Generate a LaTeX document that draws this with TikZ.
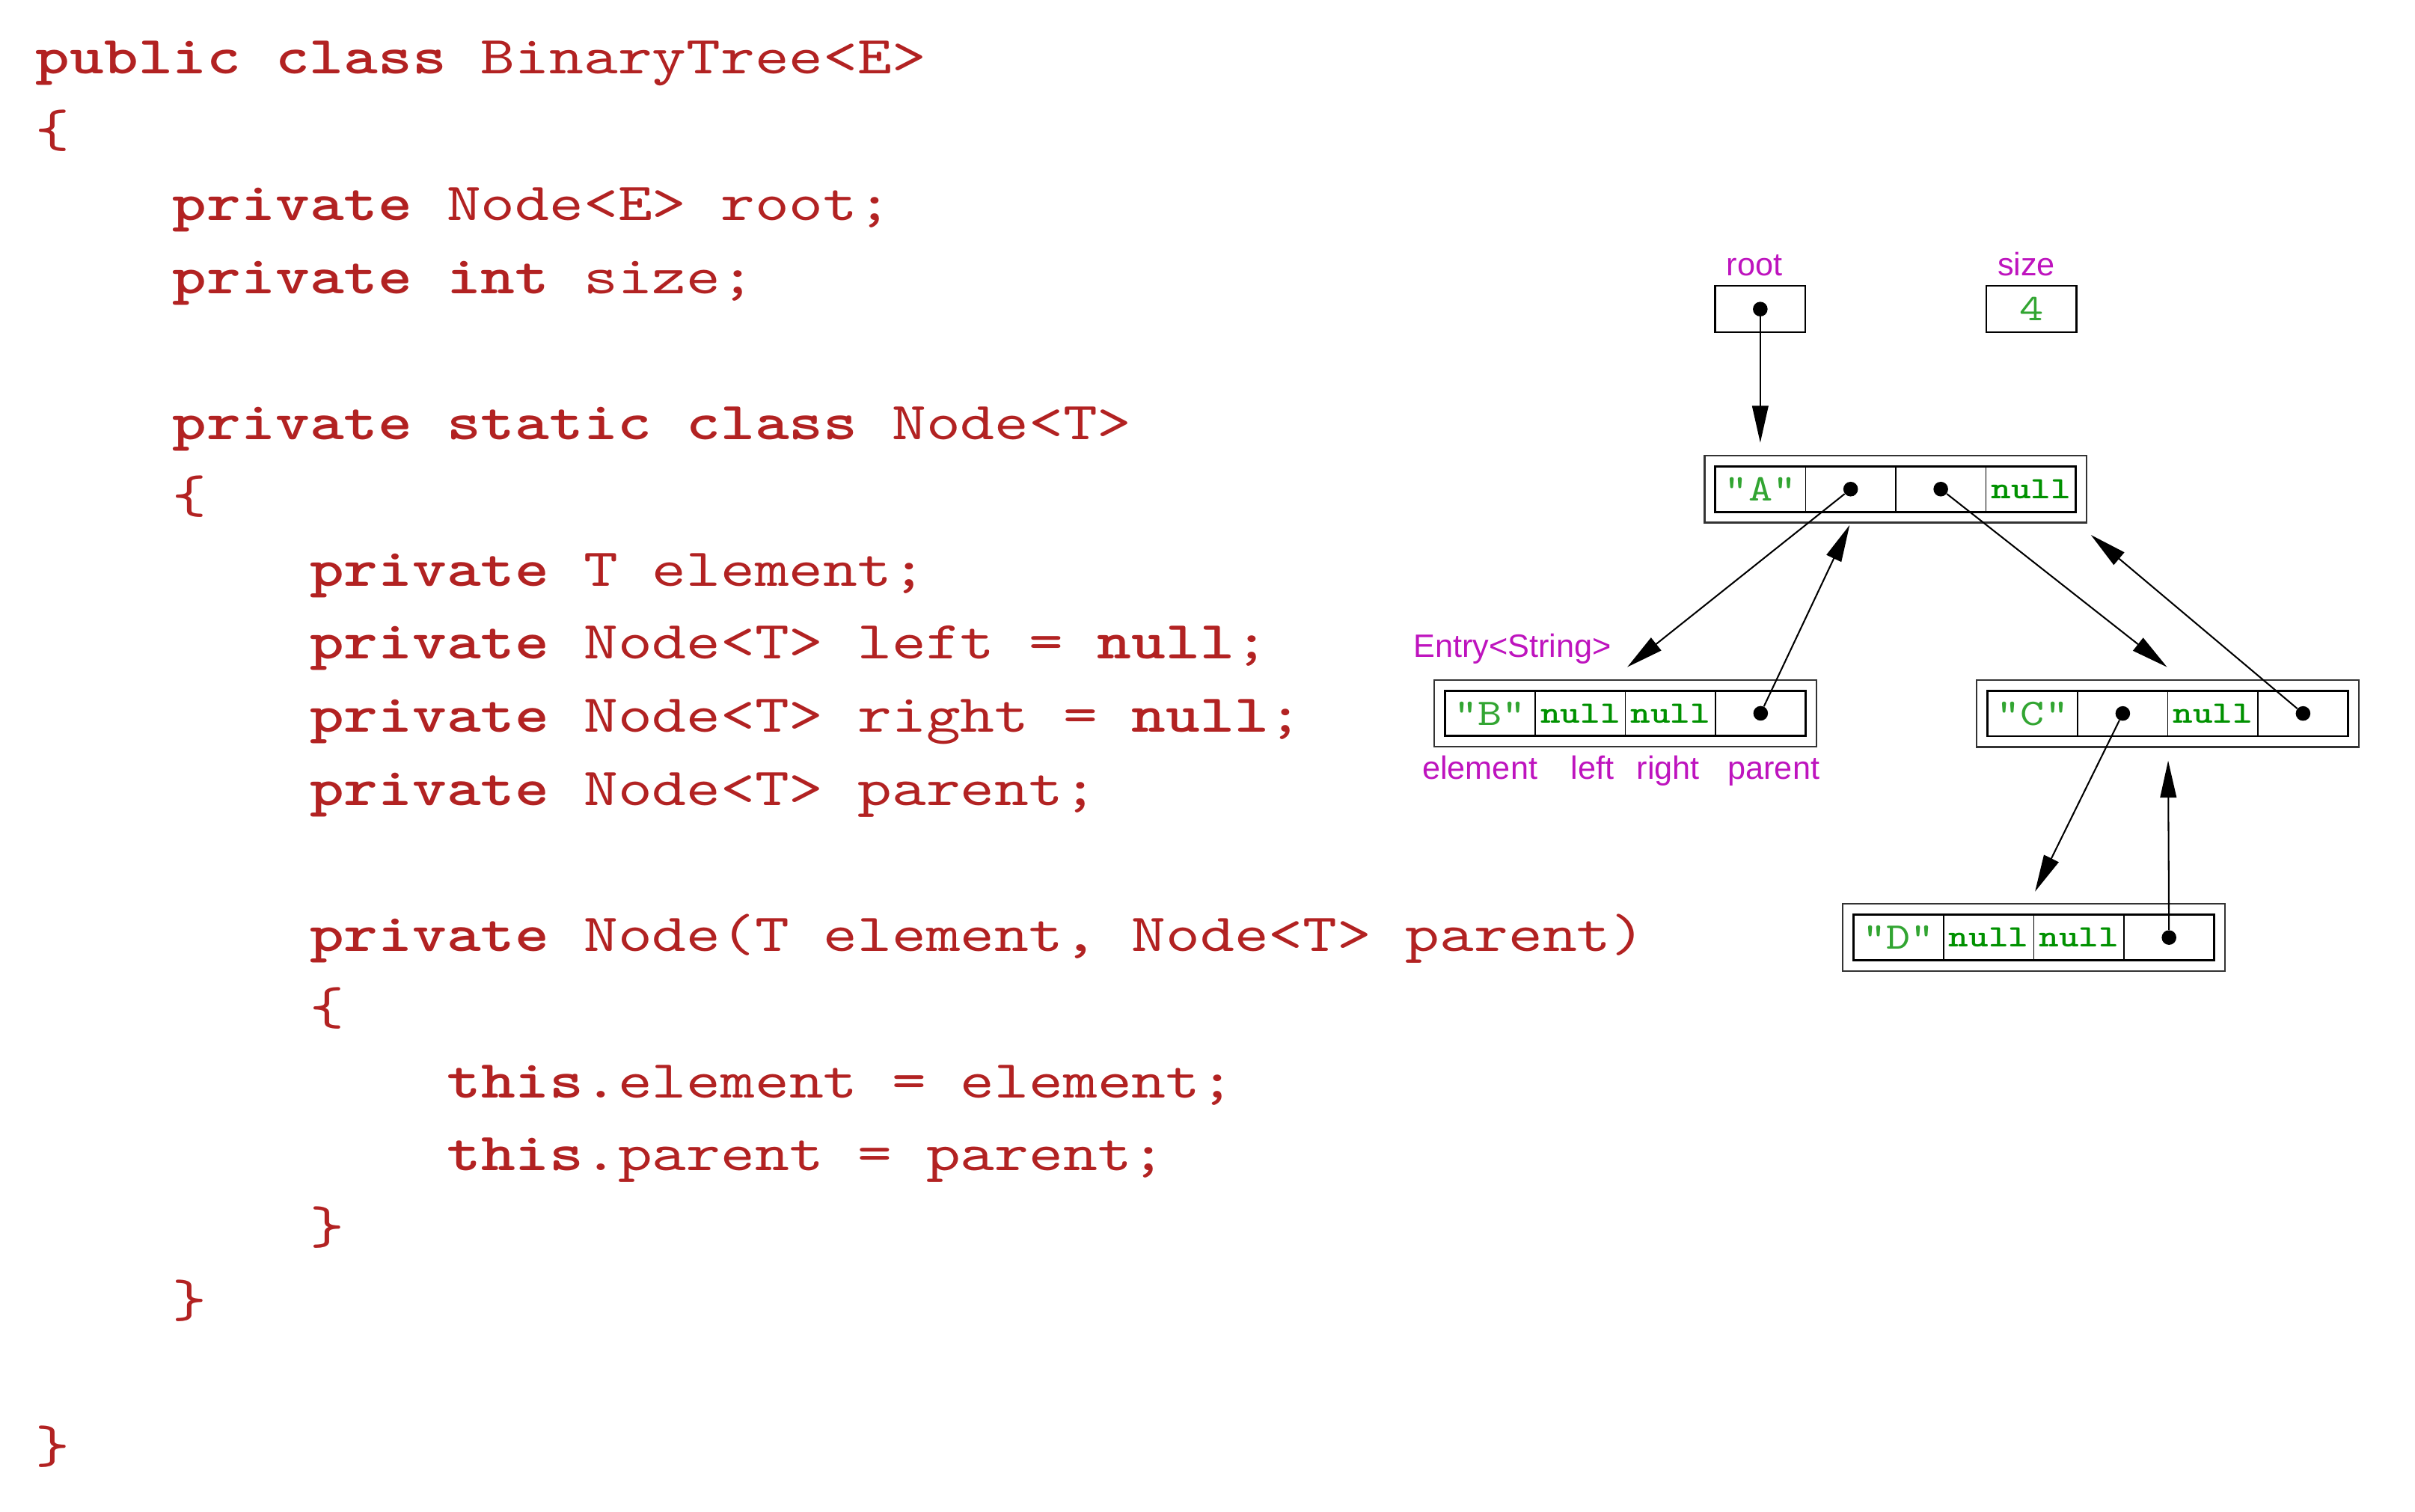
\documentclass[tikz,border=0pt]{standalone}
\usepackage{fontspec}
\setmainfont{Liberation Sans}
\newfontfamily\codefont{lmmono10-regular.otf}[BoldFont=lmmonolt10-bold.otf, FakeStretch=1.22]
\usepackage{xcolor}
\usetikzlibrary{arrows.meta}
\usetikzlibrary{calc}

\definecolor{codered}{RGB}{178,34,34}
\definecolor{lblmagenta}{RGB}{190,20,190}
\definecolor{valgreen}{RGB}{50,165,50}
\definecolor{nullgreen}{RGB}{0,145,0}

\newcommand{\kw}[1]{\textbf{#1}}
\newcommand{\nullval}{\textcolor{nullgreen}{\fontsize{20.2}{24}\selectfont\bfseries null}}

\begin{document}
\begin{tikzpicture}[x=1pt, y=-1pt,
    code/.style={anchor=base west, inner sep=0pt, text=codered, font=\codefont\fontsize{34.7}{42}\selectfont},
    lbl/.style={anchor=base, inner sep=0pt, text=lblmagenta, font=\fontsize{21}{25}\selectfont},
    outerbox/.style={draw=black!80, line width=1.1pt, minimum width=248pt, minimum height=43.5pt, inner sep=0pt},
    cellframe/.style={draw, line width=1.4pt, minimum width=234pt, minimum height=29.5pt, inner sep=0pt},
    cell/.style={draw, line width=0.7pt, minimum width=58.5pt, minimum height=29.5pt, inner sep=0pt, text=valgreen, font=\codefont\fontsize{24.4}{28}\selectfont},
    varbox/.style={cell, line width=1.1pt, minimum height=30pt},
    ptr/.style={circle, fill, inner sep=0pt, minimum size=9.5pt},
    link/.style={line width=1pt, -{Triangle[length=24pt, width=10.5pt]}}]
    \useasboundingbox (0,0) rectangle (1567.2,981.2);

    % the code
    \node[code] (c1) at (23, 48) {\kw{public class} BinaryTree<E>};
    \node[code] (c2) at (23, 95.45) {\{};
    \node[code] (c3) at (111.9, 142.9) {\kw{private} Node<E> root;};
    \node[code] (c4) at (111.9, 190.35) {\kw{private int} size;};
    \node[code] (c6) at (111.9, 285.25) {\kw{private static class} Node<T>};
    \node[code] (c7) at (111.9, 332.7) {\{};
    \node[code] (c8) at (200.8, 380.15) {\kw{private} T element;};
    \node[code] (c9) at (200.8, 427.6) {\kw{private} Node<T> left = \kw{null};};
    \node[code] (c10) at (200.8, 475.05) {\kw{private} Node<T> right = \kw{null};};
    \node[code] (c11) at (200.8, 522.5) {\kw{private} Node<T> parent;};
    \node[code] (c13) at (200.8, 617.4) {\kw{private} Node(T element, Node<T> parent)};
    \node[code] (c14) at (200.8, 664.85) {\{};
    \node[code] (c15) at (289.8, 712.3) {\kw{this}.element = element;};
    \node[code] (c16) at (289.8, 759.75) {\kw{this}.parent = parent;};
    \node[code] (c17) at (200.8, 807.2) {\}};
    \node[code] (c18) at (111.9, 854.65) {\}};
    \node[code] (c20) at (23, 949.55) {\}};

    % root and size
    \node[lbl] (rootlbl) at (1138.5, 178.8) {root};
    \node[lbl] (sizelbl) at (1315, 178.8) {size};
    \node[varbox] (root) at (1142.3, 200.6) {};
    \node[varbox] (size) at (1318.25, 200.6) {4};
    \node[ptr] (rootp) at (root.center) {};

    % node "A"
    \node[outerbox] (A) at (1230.2, 317.4) {};
    \node[cellframe] (Af) at (A) {};
    \node[cell] (A1) at ($(A)+(-87.75,0)$) {"A"};
    \node[cell] (A2) at ($(A)+(-29.25,0)$) {};
    \node[cell] (A3) at ($(A)+(29.25,0)$) {};
    \node[cell] (A4) at ($(A)+(87.75,0)$) {\nullval};
    \node[ptr] (A2p) at (A2.center) {};
    \node[ptr] (A3p) at (A3.center) {};

    % node "B"
    \node[lbl, anchor=base west] (entrylbl) at (917, 426.4) {Entry<String>};
    \node[outerbox] (B) at (1054.8, 462.9) {};
    \node[cellframe] (Bf) at (B) {};
    \node[cell] (B1) at ($(B)+(-87.75,0)$) {"B"};
    \node[cell] (B2) at ($(B)+(-29.25,0)$) {\nullval};
    \node[cell] (B3) at ($(B)+(29.25,0)$) {\nullval};
    \node[cell] (B4) at ($(B)+(87.75,0)$) {};
    \node[ptr] (B4p) at (B4.center) {};
    \node[lbl] (ellbl) at (960.4, 505.7) {element};
    \node[lbl] (leftlbl) at (1033.5, 505.7) {left};
    \node[lbl] (rightlbl) at (1082.5, 505.7) {right};
    \node[lbl] (parlbl) at (1151, 505.7) {parent};

    % node "C"
    \node[outerbox] (C) at (1406.8, 463) {};
    \node[cellframe] (Cf) at (C) {};
    \node[cell] (C1) at ($(C)+(-87.75,0)$) {"C"};
    \node[cell] (C2) at ($(C)+(-29.25,0)$) {};
    \node[cell] (C3) at ($(C)+(29.25,0)$) {\nullval};
    \node[cell] (C4) at ($(C)+(87.75,0)$) {};
    \node[ptr] (C2p) at (C2.center) {};
    \node[ptr] (C4p) at (C4.center) {};

    % node "D"
    \node[outerbox] (D) at (1319.8, 608.4) {};
    \node[cellframe] (Df) at (D) {};
    \node[cell] (D1) at ($(D)+(-87.75,0)$) {"D"};
    \node[cell] (D2) at ($(D)+(-29.25,0)$) {\nullval};
    \node[cell] (D3) at ($(D)+(29.25,0)$) {\nullval};
    \node[cell] (D4) at ($(D)+(87.75,0)$) {};
    \node[ptr] (D4p) at (D4.center) {};

    % arrow tips
    \coordinate (rootTip) at (1142.3, 287.3);
    \coordinate (BTip) at (1056, 432.9);
    \coordinate (ATipB) at (1200.3, 340.7);
    \coordinate (CTip) at (1406.3, 432.9);
    \coordinate (ATipC) at (1356.8, 347.1);
    \coordinate (DTip) at (1320.6, 578.6);
    \coordinate (CTipD) at (1407, 493.6);

    \draw[link] (rootp) -- (rootTip);
    \draw[link] (A2p) -- (BTip);
    \draw[link] (B4p) -- (ATipB);
    \draw[link] (A3p) -- (CTip);
    \draw[link] (C4p) -- (ATipC);
    \draw[link] (C2p) -- (DTip);
    \draw[link] (D4p) -- (CTipD);
\end{tikzpicture}
\end{document}
